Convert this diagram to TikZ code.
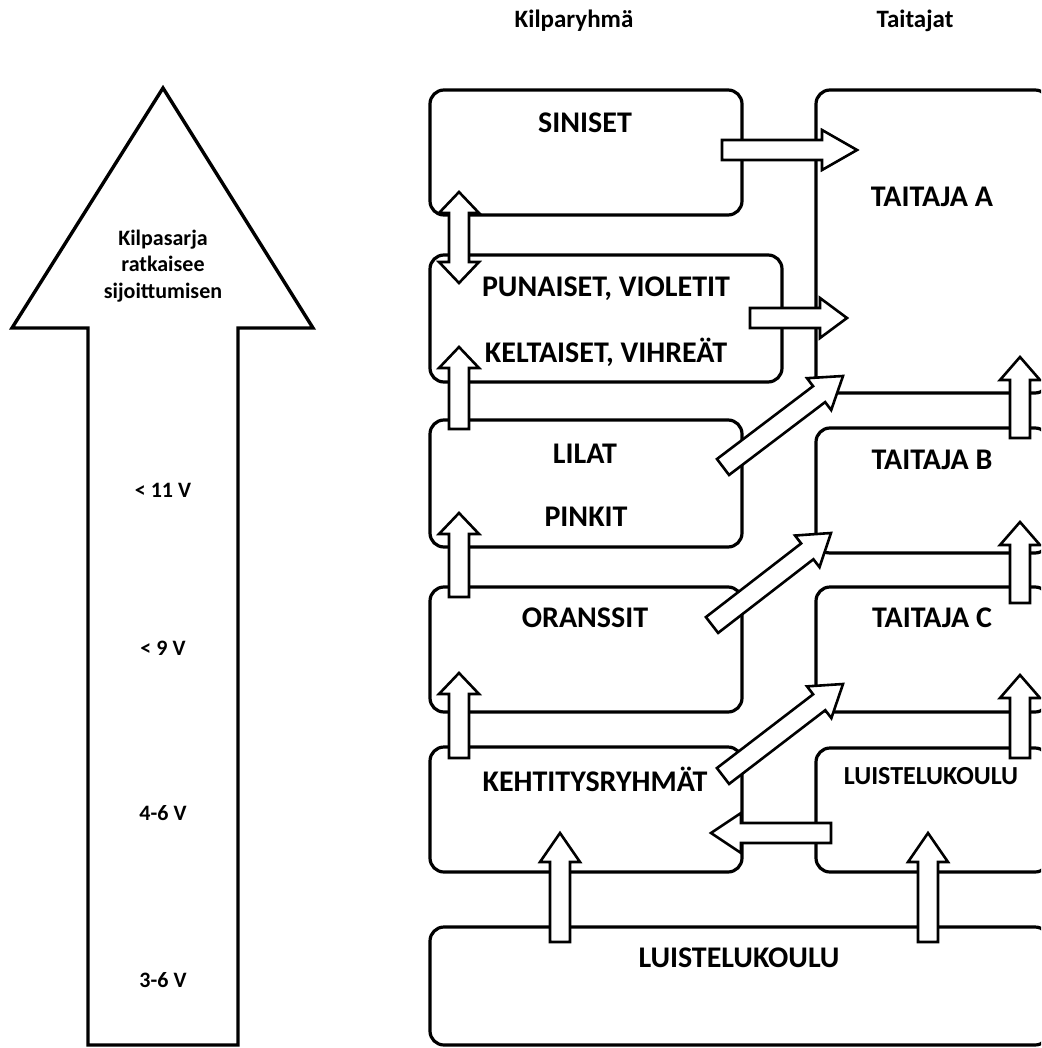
\documentclass[tikz,border=0pt]{standalone}
\usepackage{fontspec}
\setmainfont{Carlito}
\usetikzlibrary{calc,fit,positioning}

\newcommand{\shaftw}{5pt}
\newcommand{\headw}{10pt}
% fat arrow, tail #2, tip #3, head length #1
\newcommand{\blockarrow}[3][13pt]{%
  \coordinate (hb) at ($(#3)!#1!(#2)$);
  \draw[arrow_block] ($(#2)!\shaftw!90:(#3)$) -- ($(hb)!\shaftw!90:(#3)$)
    -- ($(hb)!\headw!90:(#3)$) -- (#3) -- ($(hb)!\headw!-90:(#3)$)
    -- ($(hb)!\shaftw!-90:(#3)$) -- ($(#2)!\shaftw!-90:(#3)$) -- cycle;}
% fat arrow with two heads
\newcommand{\twowayarrow}[3][11pt]{%
  \coordinate (hb1) at ($(#2)!#1!(#3)$);
  \coordinate (hb2) at ($(#3)!#1!(#2)$);
  \draw[arrow_block] (#2) -- ($(hb1)!\headw!90:(#3)$) -- ($(hb1)!\shaftw!90:(#3)$)
    -- ($(hb2)!\shaftw!90:(#3)$) -- ($(hb2)!\headw!90:(#3)$) -- (#3)
    -- ($(hb2)!\headw!-90:(#3)$) -- ($(hb2)!\shaftw!-90:(#3)$)
    -- ($(hb1)!\shaftw!-90:(#3)$) -- ($(hb1)!\headw!-90:(#3)$) -- cycle;}

\begin{document}
\begin{tikzpicture}[
      x=0.5pt, y=-0.5pt,
      box_group/.style={
         draw=black,
         line width=1.6pt,
         rounded corners=7pt,
         inner sep=0pt},
      arrow_block/.style={
         draw=black,
         fill=white,
         line width=1.3pt,
         line join=miter},
      text_box/.style={
         font=\bfseries\fontsize{15}{18}\selectfont,
         inner sep=0pt},
      text_small/.style={
         font=\bfseries\fontsize{13}{16}\selectfont,
         inner sep=0pt},
      text_head/.style={
         font=\bfseries\fontsize{12.5}{15}\selectfont,
         inner sep=0pt},
      text_age/.style={
         font=\bfseries\fontsize{11}{13.3}\selectfont,
         align=center,
         inner sep=0pt}
]
      \useasboundingbox (0,0) rectangle (1041,1048);
      \clip (0,0) rectangle (1041,1048);

      %headers
      \node[text_head] (hkilpa) at (574,21) {Kilparyhmä};
      \node[text_head] (htaito) at (915,21) {Taitajat};

      %big arrow
      \draw[line width=1.7pt, line join=miter] (163,88) -- (12,328) -- (88,328) -- (88,1045)
        -- (238,1045) -- (238,328) -- (313,328) -- cycle;
      \node[text_age] (rank) at (163,266) {Kilpasarja\\ratkaisee\\sijoittumisen};
      \node[text_age] (age1) at (163,490) {< 11 V};
      \node[text_age] (age2) at (163,648) {< 9 V};
      \node[text_age] (age3) at (163,813) {4-6 V};
      \node[text_age] (age4) at (163,980) {3-6 V};

      %groups
      \node[box_group, fit={(430,90) (742,215)}] (sin) {};
      \node[box_group, fit={(430,255) (782,382)}] (pun) {};
      \node[box_group, fit={(430,420) (742,547)}] (lil) {};
      \node[box_group, fit={(430,587) (742,712)}] (ora) {};
      \node[box_group, fit={(430,747) (742,872)}] (keh) {};
      \node[box_group, fit={(430,927) (1049,1045)}] (lui) {};
      \node[box_group, fit={(816,90) (1049,393)}] (ta) {};
      \node[box_group, fit={(816,428) (1049,553)}] (tb) {};
      \node[box_group, fit={(816,587) (1049,712)}] (tc) {};
      \node[box_group, fit={(816,748) (1049,872)}] (luir) {};

      \node[text_box] (sinl) at (585,123) {SINISET};
      \node[text_box] (punl) at (606,289) {PUNAISET, VIOLETIT};
      \node[text_box] (kell) at (606,352) {KELTAISET, VIHREÄT};
      \node[text_box] (lill) at (585,454) {LILAT};
      \node[text_box] (pinl) at (586,517) {PINKIT};
      \node[text_box] (oral) at (585,618) {ORANSSIT};
      \node[text_box] (kehl) at (595,779) {KEHTITYSRYHMÄT};
      \node[text_box] (luil) at (739,958) {LUISTELUKOULU};
      \node[text_box] (tal) at (932,197) {TAITAJA A};
      \node[text_box] (tbl) at (932,460) {TAITAJA B};
      \node[text_box] (tcl) at (932,618) {TAITAJA C};
      \node[text_small] (luirl) at (931,776) {LUISTELUKOULU};

      %arrow ends
      \foreach \n/\x/\y in {
        a1/722/150, b1/857/150,
        a2/750/318, b2/847/318,
        a3/459/429, b3/459/347,
        a4/459/597, b4/459/513,
        a5/459/758, b5/459/673,
        a6/1020/438, b6/1020/357,
        a7/1020/603, b7/1020/522,
        a8/1020/758, b8/1020/675,
        a9/723/467, b9/843/376,
        a10/712/625, b10/831/533,
        a11/723/776, b11/843/684,
        a12/831/833, b12/711/833,
        a13/560/942, b13/560/833,
        a14/928/942, b14/928/833,
        d1/459/283, d2/459/192}
        \coordinate (\n) at (\x,\y);

      \foreach \i/\j/\l in {
        a1/b1/17.5pt, a2/b2/13.5pt,
        a3/b3/10.5pt, a4/b4/10.5pt, a5/b5/10.5pt,
        a6/b6/11.5pt, a7/b7/11.5pt, a8/b8/11.5pt,
        a9/b9/15pt, a10/b10/15pt, a11/b11/15pt,
        a12/b12/15pt, a13/b13/14.5pt, a14/b14/14.5pt}
        \blockarrow[\l]{\i}{\j};

      \twowayarrow[10.5pt]{d1}{d2};

\end{tikzpicture}
\end{document}
